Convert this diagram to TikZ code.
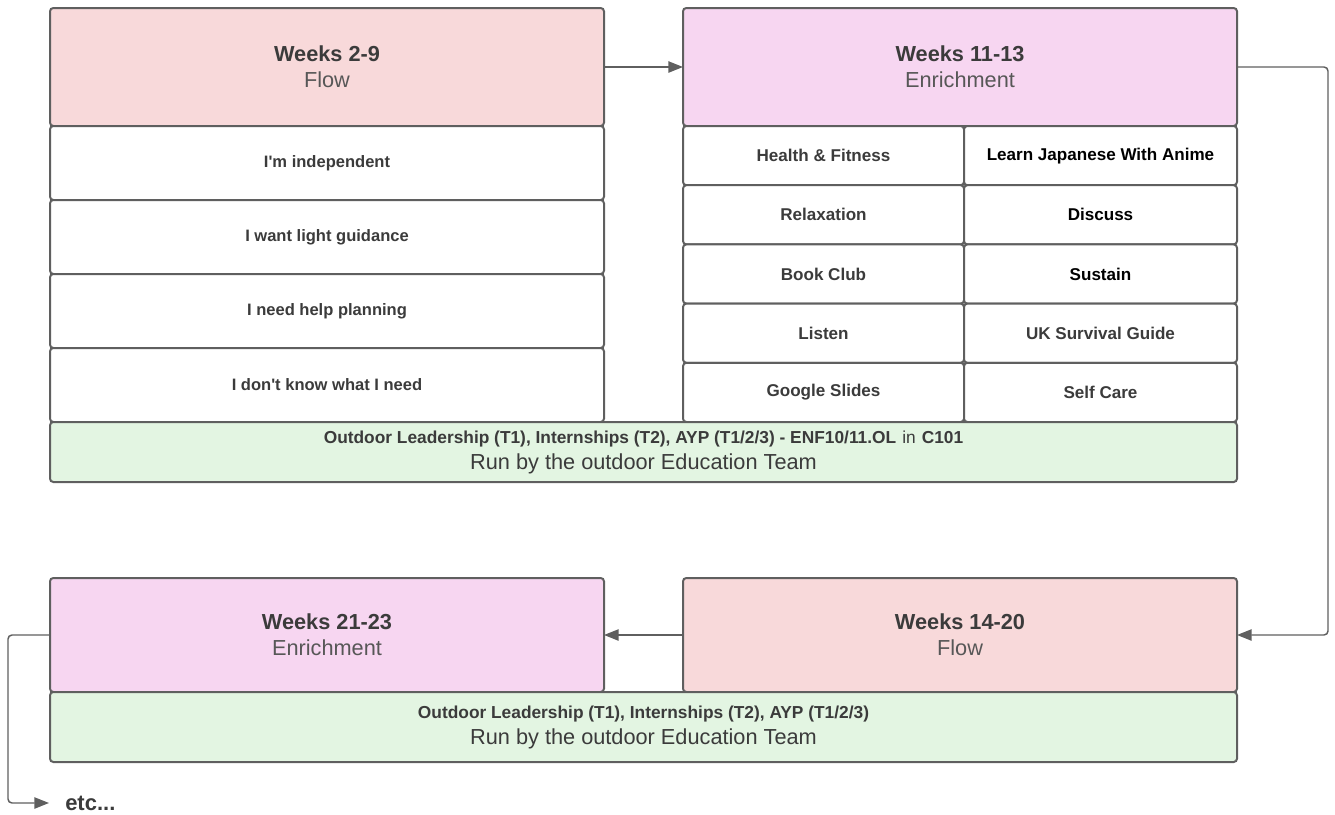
\documentclass[tikz,border=0pt]{standalone}
\usepackage{fontspec}
\setmainfont{Liberation Sans}
\usetikzlibrary{arrows.meta,positioning}
\definecolor{flowpink}{HTML}{F8D9DA}
\definecolor{enrichpink}{HTML}{F7D6F1}
\definecolor{outgreen}{HTML}{E3F5E2}
\definecolor{edge}{HTML}{5F5F5F}
\definecolor{ink}{HTML}{3B3B3B}
\definecolor{subink}{HTML}{575757}
\tikzset{
  box/.style={rectangle, draw=edge, line width=1.5pt, rounded corners=2.5pt, outer sep=0pt, inner sep=2pt, align=center, text=ink},
  head/.style={box, minimum width=415.5pt, font=\fontsize{16.3}{19.5}\selectfont},
  flow/.style={head, fill=flowpink},
  enrich/.style={head, fill=enrichpink},
  choice/.style={box, fill=white, minimum width=415.5pt, minimum height=55.5pt, font=\fontsize{12.4}{15}\selectfont\bfseries},
  club/.style={box, fill=white, minimum height=44.4pt, font=\fontsize{12.8}{15}\selectfont\bfseries},
  clubL/.style={club, minimum width=210.75pt},
  clubR/.style={club, minimum width=204.75pt},
  outdoor/.style={box, fill=outgreen, minimum width=890.25pt, font=\fontsize{16.3}{19.5}\selectfont},
  arr/.style={-{Triangle[length=11pt,width=8.5pt]}, draw=edge, line width=1.1pt, rounded corners=3pt}
}
\newcommand{\smallbold}[1]{{\fontsize{13}{19.5}\selectfont\bfseries #1}}

\begin{document}
\begin{tikzpicture}[x=0.75pt, y=-0.75pt]
\useasboundingbox (0,0) rectangle (1335,814);

% first row
\node[flow, minimum height=88.5pt] (wk2) at (327,67) {\textbf{Weeks 2-9}\\\textcolor{subink}{Flow}};
\node[choice, below=0pt of wk2] (ch1) {I\textquotesingle m independent};
\node[choice, below=0pt of ch1] (ch2) {I want light guidance};
\node[choice, below=0pt of ch2] (ch3) {I need help planning};
\node[choice, below=0pt of ch3] (ch4) {I don\textquotesingle t know what I need};

\node[enrich, minimum height=88.5pt, right=59.25pt of wk2] (wk11) {\textbf{Weeks 11-13}\\\textcolor{subink}{Enrichment}};
\node[clubL, below right=0pt of wk11.south west] (cl1) {Health \& Fitness};
\node[clubL, below=0pt of cl1] (cl2) {Relaxation};
\node[clubL, below=0pt of cl2] (cl3) {Book Club};
\node[clubL, below=0pt of cl3] (cl4) {Listen};
\node[clubL, below=0pt of cl4] (cl5) {Google Slides};
\node[clubR, right=0pt of cl1, text=black] (cr1) {Learn Japanese With Anime};
\node[clubR, right=0pt of cl2, text=black] (cr2) {Discuss};
\node[clubR, right=0pt of cl3, text=black] (cr3) {Sustain};
\node[clubR, right=0pt of cl4] (cr4) {UK Survival Guide};
\node[clubR, right=0pt of cl5] (cr5) {Self Care};

\node[outdoor, minimum height=45pt, below right=0pt of ch4.south west] (out1)
  {\smallbold{Outdoor Leadership (T1), Internships (T2), AYP (T1/2/3) - ENF10/11.OL} {\fontsize{13}{19.5}\selectfont in} \smallbold{C101}\\Run by the outdoor Education Team};

% second row
\node[enrich, minimum height=85.5pt] (wk21) at (327,635) {\textbf{Weeks 21-23}\\\textcolor{subink}{Enrichment}};
\node[flow, minimum height=85.5pt, right=59.25pt of wk21] (wk14) {\textbf{Weeks 14-20}\\\textcolor{subink}{Flow}};
\node[outdoor, minimum height=52.5pt, below right=0pt of wk21.south west] (out2)
  {\smallbold{Outdoor Leadership (T1), Internships (T2), AYP (T1/2/3)}\\Run by the outdoor Education Team};

\node[anchor=west, inner sep=0pt, text=ink, font=\fontsize{16.5}{20}\selectfont\bfseries] (etc) at (65,803) {etc...};

\draw[arr] (wk2) -- (wk11);
\draw[arr] (wk11.east) -- ++(68.25pt,0) |- (wk14.east);
\draw[arr] (wk14) -- (wk21);
\draw[arr, shorten >=12pt] (wk21.west) -- ++(-31.5pt,0) |- (etc.west);
\end{tikzpicture}
\end{document}
